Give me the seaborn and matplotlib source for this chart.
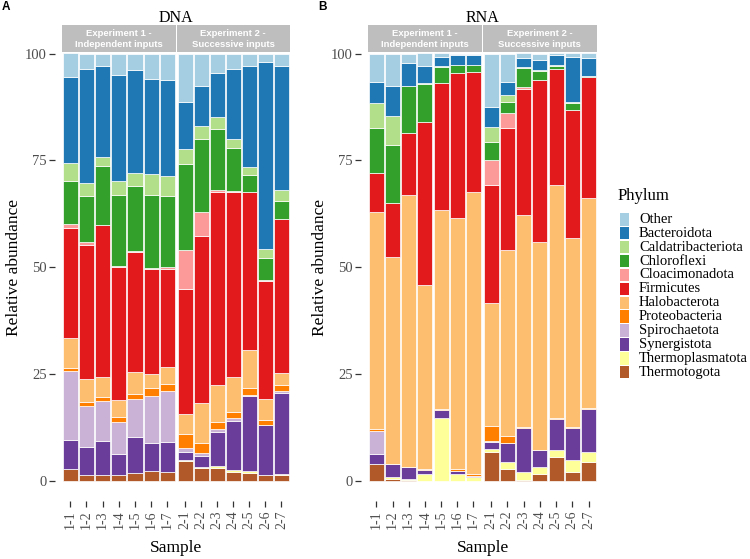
import numpy as np
import pandas as pd
import matplotlib
matplotlib.use("Agg")
import matplotlib.pyplot as plt
from matplotlib.patches import Rectangle
import seaborn as sns

samples = ["1-1", "1-2", "1-3", "1-4", "1-5", "1-6", "1-7",
           "2-1", "2-2", "2-3", "2-4", "2-5", "2-6", "2-7"]
phyla = ["Other", "Bacteroidota", "Caldatribacteriota", "Chloroflexi",
         "Cloacimonadota", "Firmicutes", "Halobacterota", "Proteobacteria",
         "Spirochaetota", "Synergistota", "Thermoplasmatota", "Thermotogota"]
colors = ["#A6CEE3", "#1F78B4", "#B2DF8A", "#33A02C", "#FB9A99", "#E31A1C",
          "#FDBF6F", "#FF7F00", "#CAB2D6", "#6A3D9A", "#FFFF99", "#B15928"]
experiments = ["Experiment 1 -\nIndependent inputs", "Experiment 2 -\nSuccessive inputs"]

# ---- DNA (relative abundance, %) ----
dna_other = [5.5, 3.5, 2.8, 4.9, 3.7, 5.9, 6.2, 11.4, 7.5, 4.5, 3.6, 2.8, 2.0, 2.8]
dna_bacteroidota = [20.2, 26.8, 21.3, 25.0, 24.3, 22.3, 22.4, 10.9, 9.4, 10.4, 16.3, 23.8, 43.7, 29.1]
dna_caldatribacteriota = [4.1, 3.0, 2.3, 3.3, 2.9, 4.8, 4.7, 3.6, 3.1, 2.8, 2.1, 1.9, 2.0, 2.6]
dna_chloroflexi = [10.2, 10.9, 13.7, 16.6, 15.2, 17.2, 16.7, 20.0, 17.1, 14.2, 10.1, 3.8, 5.3, 4.1]
dna_cloacimonadota = [1.0, 0.6, 0.1, 0.2, 0.4, 0.3, 0.5, 9.2, 5.7, 0.4, 0.4, 0.1, 0.1, 0.15]
dna_firmicutes = [25.6, 31.4, 35.4, 31.1, 28.0, 24.4, 22.8, 29.3, 39.1, 45.3, 43.3, 37.0, 27.8, 35.95]
dna_halobacterota = [7.2, 5.3, 4.9, 3.9, 5.3, 3.5, 4.1, 4.7, 9.3, 8.6, 8.1, 9.0, 4.9, 2.8]
dna_proteobacteria = [0.6, 0.9, 0.9, 1.2, 1.1, 1.7, 1.7, 3.2, 2.2, 1.6, 1.4, 1.5, 1.1, 1.5]
dna_spirochaetota = [16.2, 9.8, 9.3, 7.5, 8.9, 11.1, 11.8, 1.0, 0.7, 0.7, 0.6, 0.3, 0.1, 0.4]
dna_synergistota = [6.8, 6.5, 8.0, 5.0, 8.3, 6.5, 7.1, 1.8, 2.6, 8.1, 11.6, 17.6, 11.7, 19.0]
dna_thermoplasmatota = [0, 0, 0, 0, 0, 0, 0, 0.3, 0.4, 0.4, 0.5, 0.5, 0, 0.35]
dna_thermotogota = [2.7, 1.3, 1.3, 1.3, 1.9, 2.3, 2.0, 4.6, 2.9, 3.0, 2.0, 1.7, 1.25, 1.25]

# ---- RNA (relative abundance, %) ----
rna_other = [6.6, 7.5, 2.2, 3.0, 0.8, 0.2, 0.2, 12.5, 6.6, 1.2, 1.4, 0.5, 0.8, 1.3]
rna_bacteroidota = [4.9, 7.0, 5.3, 4.0, 2.2, 2.4, 2.4, 4.7, 3.0, 2.0, 2.5, 2.3, 10.7, 4.2]
rna_caldatribacteriota = [5.9, 6.9, 0.1, 0.1, 0.1, 0, 0, 3.4, 1.8, 0.4, 0.2, 0.2, 0.1, 0]
rna_chloroflexi = [10.5, 13.5, 10.9, 9.0, 3.8, 2.0, 1.7, 4.4, 2.5, 4.4, 2.1, 0.8, 1.7, 0.2]
rna_cloacimonadota = [0, 0, 0, 0, 0, 0, 0, 5.8, 3.5, 0.4, 0, 0, 0, 0]
rna_firmicutes = [9.1, 12.8, 14.5, 38.2, 29.8, 33.9, 28.0, 27.6, 28.6, 29.6, 38.0, 27.1, 30.0, 28.4]
rna_halobacterota = [51.0, 48.4, 63.9, 43.1, 46.6, 58.8, 66.1, 28.7, 43.5, 49.6, 48.5, 54.5, 44.2, 49.0]
rna_proteobacteria = [0.3, 0, 0, 0.1, 0.2, 0.4, 0.5, 3.6, 1.6, 0.2, 0.2, 0.3, 0.2, 0.2]
rna_spirochaetota = [5.5, 0, 0, 0, 0, 0, 0, 0.2, 0.15, 0, 0, 0, 0, 0]
rna_synergistota = [2.3, 3.0, 2.6, 1.0, 1.8, 0.7, 0.3, 1.7, 4.45, 10.3, 4.0, 7.3, 7.6, 10.1]
rna_thermoplasmatota = [0, 0.4, 0.4, 1.6, 14.8, 1.6, 0.8, 0.6, 1.6, 1.9, 1.5, 1.6, 2.7, 2.3]
rna_thermotogota = [3.9, 0.5, 0.1, 0, 0, 0, 0, 6.8, 2.7, 0.2, 1.6, 5.6, 2.1, 4.5]

dna = dict(zip(phyla, [dna_other, dna_bacteroidota, dna_caldatribacteriota, dna_chloroflexi,
                       dna_cloacimonadota, dna_firmicutes, dna_halobacterota, dna_proteobacteria,
                       dna_spirochaetota, dna_synergistota, dna_thermoplasmatota, dna_thermotogota]))
rna = dict(zip(phyla, [rna_other, rna_bacteroidota, rna_caldatribacteriota, rna_chloroflexi,
                       rna_cloacimonadota, rna_firmicutes, rna_halobacterota, rna_proteobacteria,
                       rna_spirochaetota, rna_synergistota, rna_thermoplasmatota, rna_thermotogota]))


def long_df(d):
    rows = []
    for p in phyla:
        for s, v in zip(samples, d[p]):
            if v > 0:
                rows.append({"Sample": s, "Phylum": p, "Abundance": v,
                             "Exp": 0 if s.startswith("1") else 1})
    return pd.DataFrame(rows)


SERIF = ["Liberation Serif", "DejaVu Serif"]
SANS = ["Liberation Sans", "DejaVu Sans"]
palette = dict(zip(phyla, colors))

W, H = 750, 559
fig = plt.figure(figsize=(7.5, 5.59), dpi=100)


def fx(px):
    return px / W


def fy(py):
    return 1 - py / H


panel_top, panel_bot = 52, 501
strip_top = 25
panels = [
    ("DNA", dna, [(62, 175.5), (177, 289.5)], "A", 2),
    ("RNA", rna, [(368.3, 481.5), (483, 596.7)], "B", 318),
]

for title, data, spans, letter, lx in panels:
    df = long_df(data)
    for e, (x0, x1) in enumerate(spans):
        ax = fig.add_axes([fx(x0), fy(panel_bot), (x1 - x0) / W, (panel_bot - panel_top) / H])
        sub = df[df["Exp"] == e]
        order = samples[e * 7:(e + 1) * 7]
        sub = sub.copy()
        sub["Sample"] = pd.Categorical(sub["Sample"], categories=order, ordered=True)
        sub = sub.sort_values("Sample")
        sub["Sample"] = sub["Sample"].astype(str)
        sns.histplot(data=sub, x="Sample", weights="Abundance", hue="Phylum",
                     hue_order=phyla, palette=palette, multiple="stack",
                     discrete=True, shrink=0.93, edgecolor="white", linewidth=0.5,
                     alpha=1, legend=False, ax=ax)
        ax.set_xlim(-0.5, 6.5)
        ax.set_ylim(-4.75, 100.4)
        ax.set_xlabel("")
        ax.set_ylabel("")
        for sp in ax.spines.values():
            sp.set_color("none")
        ax.set_xticks(range(7))
        ax.set_xticklabels(order, rotation=90, family=SERIF, fontsize=10, color="#4D4D4D")
        ax.tick_params(axis="x", direction="out", length=4, width=0.9, color="#333333", pad=3)
        if e == 0:
            ax.spines["left"].set_position(("outward", 5))
            ax.set_yticks([0, 25, 50, 75, 100])
            ax.set_yticklabels(["0", "25", "50", "75", "100"], family=SERIF, fontsize=10.5,
                               color="#4D4D4D")
            ax.tick_params(axis="y", direction="out", length=4, width=0.9, color="#333333", pad=2)
        else:
            ax.set_yticks([])
        ax.set_facecolor("white")
        # facet strip
        fig.add_artist(Rectangle((fx(x0), fy(panel_top)), (x1 - x0) / W,
                                 (panel_top - strip_top) / H, transform=fig.transFigure,
                                 facecolor="#BEBEBE", edgecolor="none"))
        fig.text(fx((x0 + x1) / 2), fy((panel_top + strip_top) / 2 + 0.5), experiments[e],
                 ha="center", va="center", color="white", family=SANS, fontsize=6.8,
                 fontweight="bold", linespacing=1.15)
    cx = (spans[0][0] + spans[1][1]) / 2
    fig.text(fx(cx), fy(18), title, ha="center", va="center", family=SERIF, fontsize=11.5)
    fig.text(fx(cx), fy(548), "Sample", ha="center", va="center", family=SERIF, fontsize=12.5)
    fig.text(fx(spans[0][0] - 48), fy(267), "Relative abundance", ha="center", va="center",
             rotation=90, family=SERIF, fontsize=12.5)
    fig.text(fx(lx), fy(7), letter, ha="left", va="center", family=SANS, fontsize=8.5,
             fontweight="bold")

# legend
fig.text(fx(618), fy(196), "Phylum", ha="left", va="center", family=SERIF, fontsize=12)
row_h = 13.9
for i, (p, c) in enumerate(zip(phyla, colors)):
    yc = 219.3 + i * row_h
    fig.add_artist(Rectangle((fx(619.5), fy(yc + 6.2)), 9.5 / W, 12.4 / H,
                             transform=fig.transFigure, facecolor=c, edgecolor="none"))
    fig.text(fx(639), fy(yc), p, ha="left", va="center", family=SERIF, fontsize=10.5)

fig.savefig("out.png", dpi=100)
